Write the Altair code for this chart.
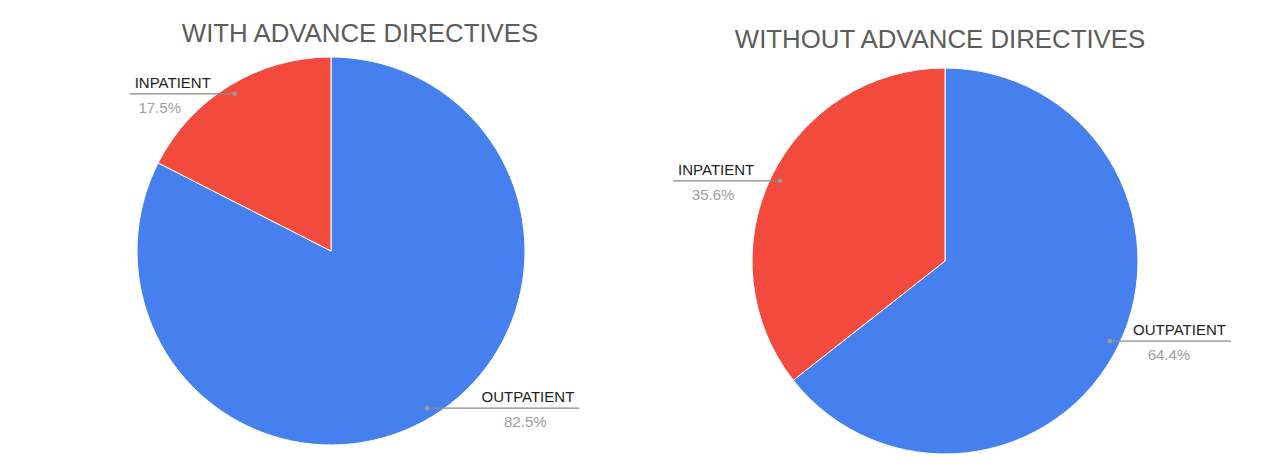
import math
import altair as alt
import pandas as pd

# ---- data ----
categories = ["OUTPATIENT", "INPATIENT"]
with_ad = [82.5, 17.5]
without_ad = [64.4, 35.6]
titles = ["WITH ADVANCE DIRECTIVES", "WITHOUT ADVANCE DIRECTIVES"]
colors = ["#4680EE", "#F24A3C"]

# ---- layout (pixels inside each panel) ----
PANELS = [
    dict(w=640, h=448, cx=323, cy=243, r=194, tx=352, ty=34,
         line_len={"INPATIENT": 105, "OUTPATIENT": 152},
         pct_off={"INPATIENT": 30, "OUTPATIENT": -54}),
    dict(w=620, h=448, cx=297, cy=253, r=193, tx=292, ty=40,
         line_len={"INPATIENT": 107, "OUTPATIENT": 121},
         pct_off={"INPATIENT": 40, "OUTPATIENT": -62}),
]

FONT = "Liberation Sans"


def panel(values, title, L):
    total = sum(values)
    cum = 0.0
    rows = []
    for i, (c, v) in enumerate(zip(categories, values)):
        mid = (cum + v / 2) / total * 2 * math.pi
        cum += v
        ax = L["cx"] + 0.95 * L["r"] * math.sin(mid)
        ay = L["cy"] - 0.95 * L["r"] * math.cos(mid)
        side = 1 if math.sin(mid) > 0 else -1
        end = ax + side * L["line_len"][c]
        rows.append(dict(cat=c, value=v, order=i, pct=f"{v:.1f}%",
                         ax=ax, ay=ay, end=end, side=side,
                         tx=end - side * 5, ty=ay - 6,
                         px=end + L["pct_off"][c], py=ay + 19))
    df = pd.DataFrame(rows)
    base = alt.Chart(df)

    arcs = base.mark_arc(outerRadius=L["r"], stroke="white", strokeWidth=1).encode(
        theta=alt.Theta("value:Q", stack=True),
        color=alt.Color("cat:N", scale=alt.Scale(domain=categories, range=colors), legend=None),
        order=alt.Order("order:Q"),
        x=alt.value(L["cx"]),
        y=alt.value(L["cy"]),
    )
    X = lambda f: alt.X(f, scale=None, axis=None)
    Y = lambda f: alt.Y(f, scale=None, axis=None)
    lines = base.mark_rule(color="#8a8a8a", strokeWidth=1.2).encode(
        x=X("ax:Q"), x2="end:Q", y=Y("ay:Q"))
    dots = base.mark_circle(size=22, color="#9a9a9a", opacity=1).encode(
        x=X("ax:Q"), y=Y("ay:Q"))
    lab_left = base.transform_filter("datum.side < 0").mark_text(
        align="left", baseline="alphabetic", font=FONT, fontSize=15, color="#222222"
    ).encode(x=X("tx:Q"), y=Y("ty:Q"), text="cat:N")
    lab_right = base.transform_filter("datum.side > 0").mark_text(
        align="right", baseline="alphabetic", font=FONT, fontSize=15, color="#222222"
    ).encode(x=X("tx:Q"), y=Y("ty:Q"), text="cat:N")
    pcts = base.mark_text(
        align="center", baseline="alphabetic", font=FONT, fontSize=15, color="#9e9e9e"
    ).encode(x=X("px:Q"), y=Y("py:Q"), text="pct:N")
    ttl = alt.Chart(pd.DataFrame({"t": [title]})).mark_text(
        align="center", baseline="alphabetic", font=FONT, fontSize=25.8, color="#5c5c5c"
    ).encode(text="t:N", x=alt.value(L["tx"]), y=alt.value(L["ty"]))

    return alt.layer(arcs, lines, dots, lab_left, lab_right, pcts, ttl).properties(
        width=L["w"], height=L["h"])


chart = alt.hconcat(
    panel(with_ad, titles[0], PANELS[0]),
    panel(without_ad, titles[1], PANELS[1]),
    spacing=0,
).properties(padding=0, background="white").configure_view(stroke=None, fill="white")

chart.save("out.html", embed_options={"renderer": "svg", "actions": False})
